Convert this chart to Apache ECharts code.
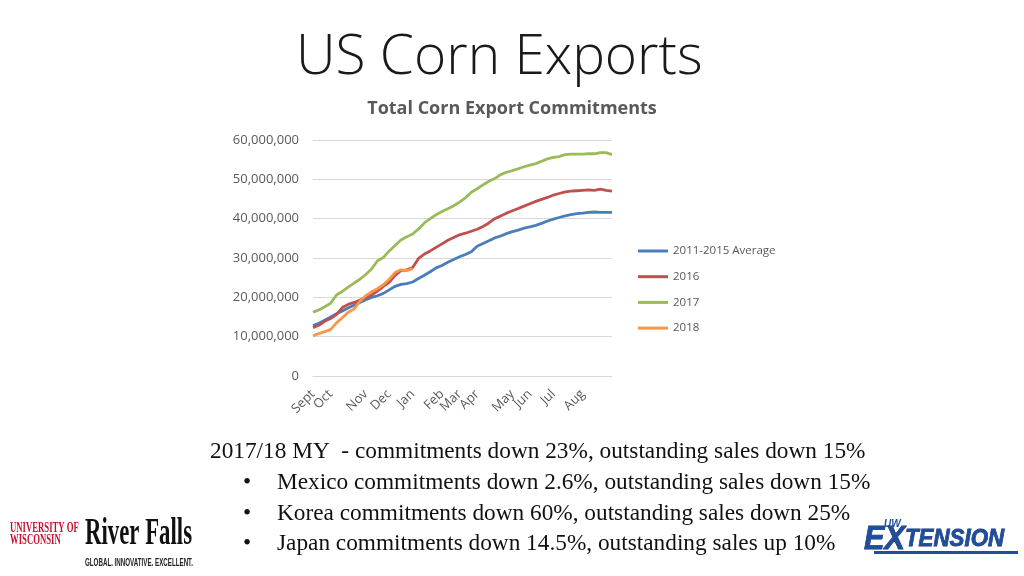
<!DOCTYPE html>
<html>
<head>
<meta charset="utf-8">
<script src="https://cdn.jsdelivr.net/npm/echarts@6/dist/echarts.min.js"></script>
<style>
  html, body { margin: 0; padding: 0; background: #fff; }
  #main { width: 1024px; height: 576px; }
</style>
</head>
<body>
<div id="main"></div>
<script>
// weekly commitments in millions, week 0 = start of Sept
const monthNames = ['Sept', 'Oct', 'Nov', 'Dec', 'Jan', 'Feb', 'Mar', 'Apr', 'May', 'Jun', 'Jul', 'Aug'];
const monthWeek = [0, 3, 9, 13, 17, 22, 25, 28, 34, 37, 41, 46];
const weekCount = 52;

const avg1115 = [12.8, 13.4, 14.2, 15.0, 15.8, 16.5, 17.3, 18.0, 18.7, 19.4, 20.0, 20.4, 21.0,
  21.9, 22.8, 23.3, 23.5, 23.9, 24.8, 25.6, 26.5, 27.5, 28.1, 28.9, 29.6, 30.3, 30.9, 31.6,
  33.0, 33.7, 34.4, 35.1, 35.6, 36.2, 36.7, 37.1, 37.6, 37.9, 38.3, 38.8, 39.4, 39.9, 40.3,
  40.7, 41.0, 41.3, 41.4, 41.6, 41.7, 41.6, 41.6, 41.6];
const y2016 = [12.3, 12.9, 13.9, 14.6, 15.6, 17.4, 18.2, 18.7, 19.3, 19.9, 20.6, 21.6, 22.8,
  23.8, 25.6, 26.8, 27.0, 27.6, 29.9, 31.0, 31.8, 32.7, 33.6, 34.5, 35.2, 35.9, 36.3, 36.8,
  37.3, 38.0, 38.9, 40.0, 40.7, 41.4, 42.0, 42.6, 43.2, 43.8, 44.4, 44.9, 45.4, 46.0, 46.4,
  46.8, 47.0, 47.1, 47.2, 47.3, 47.2, 47.5, 47.2, 47.0];
const y2017 = [16.2, 16.8, 17.6, 18.5, 20.6, 21.5, 22.6, 23.6, 24.6, 25.8, 27.2, 29.3, 30.1,
  31.8, 33.2, 34.6, 35.4, 36.1, 37.4, 38.9, 40.0, 41.0, 41.8, 42.5, 43.3, 44.2, 45.3, 46.7,
  47.6, 48.6, 49.5, 50.2, 51.2, 51.8, 52.2, 52.7, 53.2, 53.6, 54.0, 54.6, 55.2, 55.6, 55.8,
  56.3, 56.4, 56.4, 56.4, 56.5, 56.5, 56.8, 56.8, 56.3];
const y2018 = [10.2, 10.8, 11.3, 11.8, 13.5, 14.8, 16.2, 17.0, 19.0, 20.4, 21.4, 22.2, 23.2,
  24.6, 26.3, 27.0, 26.8, 27.3];

const seriesNames = ['2011-2015 Average', '2016', '2017', '2018'];
const seriesColors = ['#4a7ebb', '#c0504d', '#9bbb59', '#f79646'];

const headLine = '2017/18 MY  - commitments down 23%, outstanding sales down 15%';
const bulletLines = [
  'Mexico commitments down 2.6%, outstanding sales down 15%',
  'Korea commitments down 60%, outstanding sales down 25%',
  'Japan commitments down 14.5%, outstanding sales up 10%',
];

// category labels: month name on its first week, blank elsewhere
const categories = [];
for (let i = 0; i < weekCount; i++) {
  const k = monthWeek.indexOf(i);
  categories.push(k >= 0 ? monthNames[k] : '');
}

const myChart = echarts.init(document.getElementById('main'));

const seriesData = [avg1115, y2016, y2017, y2018];
const series = seriesData.map((d, k) => ({
  name: seriesNames[k],
  type: 'line',
  data: d,
  showSymbol: false,
  symbol: 'none',
  lineStyle: { width: 2.8, color: seriesColors[k] },
  itemStyle: { color: seriesColors[k] },
  z: k === 3 ? 5 : 3,
}));

const serif = '"Liberation Serif"';
const graphics = [
  {
    type: 'text', x: 296, y: 31,
    style: { text: 'US Corn Exports', font: '300 55px "Open Sans"', fill: '#1a1a1a' },
  },
  {
    type: 'text', x: 210, y: 452,
    style: { text: headLine, font: '23.3px ' + serif, fill: '#111', verticalAlign: 'middle' },
  },
  // UW River Falls logo, drawn as text
  {
    type: 'text', x: 10, y: 522, scaleX: 0.58,
    style: { text: 'UNIVERSITY OF\nWISCONSIN', font: 'bold 15px ' + serif, fill: '#c8102e', lineHeight: 12 },
  },
  {
    type: 'text', x: 85, y: 515, scaleX: 0.6,
    style: { text: 'River Falls', font: 'bold 38px ' + serif, fill: '#111' },
  },
  {
    type: 'text', x: 85, y: 558, scaleX: 0.62,
    style: { text: 'GLOBAL. INNOVATIVE. EXCELLENT.', font: 'bold 10px "Liberation Sans"', fill: '#222' },
  },
  // UW Extension logo, drawn as text
  {
    type: 'text', x: 884, y: 519,
    style: { text: 'UW', font: 'bold italic 10px "Liberation Sans"', fill: '#1f4e9c' },
  },
  {
    type: 'text', x: 864, y: 556, scaleX: 0.93,
    style: {
      text: '{a|EX}{b|TENSION}',
      verticalAlign: 'bottom',
      rich: {
        a: { font: 'bold italic 33px "Liberation Sans"', fill: '#1f4e9c', stroke: '#10306a', lineWidth: 0.8 },
        b: { font: 'bold italic 24px "Liberation Sans"', fill: '#1f4e9c', stroke: '#10306a', lineWidth: 0.8 },
      },
    },
  },
  {
    type: 'rect', shape: { x: 874, y: 551, width: 144, height: 3 },
    style: { fill: '#1f4e9c' },
  },
];
bulletLines.forEach((t, i) => {
  graphics.push({
    type: 'text', x: 243, y: 483 + i * 30.5,
    style: { text: '\u2022', font: '23.3px ' + serif, fill: '#111', verticalAlign: 'middle' },
  });
  graphics.push({
    type: 'text', x: 277, y: 483 + i * 30.5,
    style: { text: t, font: '23.3px ' + serif, fill: '#111', verticalAlign: 'middle' },
  });
});

myChart.setOption({
  animation: false,
  backgroundColor: '#fff',
  title: {
    text: 'Total Corn Export Commitments',
    left: 'center',
    top: 95,
    textStyle: { fontFamily: 'Open Sans', fontSize: 18, fontWeight: 'bold', color: '#595959' },
  },
  grid: { left: 313, right: 412, top: 140, bottom: 200 },
  legend: {
    orient: 'vertical',
    left: 638,
    top: 244,
    padding: 0,
    itemWidth: 30,
    itemHeight: 3,
    itemGap: 11.7,
    icon: 'rect',
    data: seriesNames,
    textStyle: { fontFamily: 'Open Sans', fontSize: 11.5, color: '#595959', lineHeight: 14 },
  },
  xAxis: {
    type: 'category',
    data: categories,
    boundaryGap: false,
    axisLine: { show: true, lineStyle: { color: '#d9d9d9' } },
    axisTick: { show: false },
    axisLabel: {
      interval: 0,
      rotate: 45,
      margin: 16,
      fontFamily: 'Open Sans',
      fontSize: 13,
      color: '#595959',
    },
  },
  yAxis: {
    type: 'value',
    min: 0,
    max: 60,
    interval: 10,
    axisLine: { show: false },
    axisTick: { show: false },
    splitLine: { lineStyle: { color: '#d9d9d9', width: 1 } },
    axisLabel: {
      margin: 14,
      fontFamily: 'Open Sans',
      fontSize: 13,
      color: '#595959',
      formatter: (v) => (v === 0 ? '0' : (v * 1e6).toLocaleString('en-US')),
    },
  },
  series: series,
  graphic: graphics,
});
</script>
</body>
</html>
